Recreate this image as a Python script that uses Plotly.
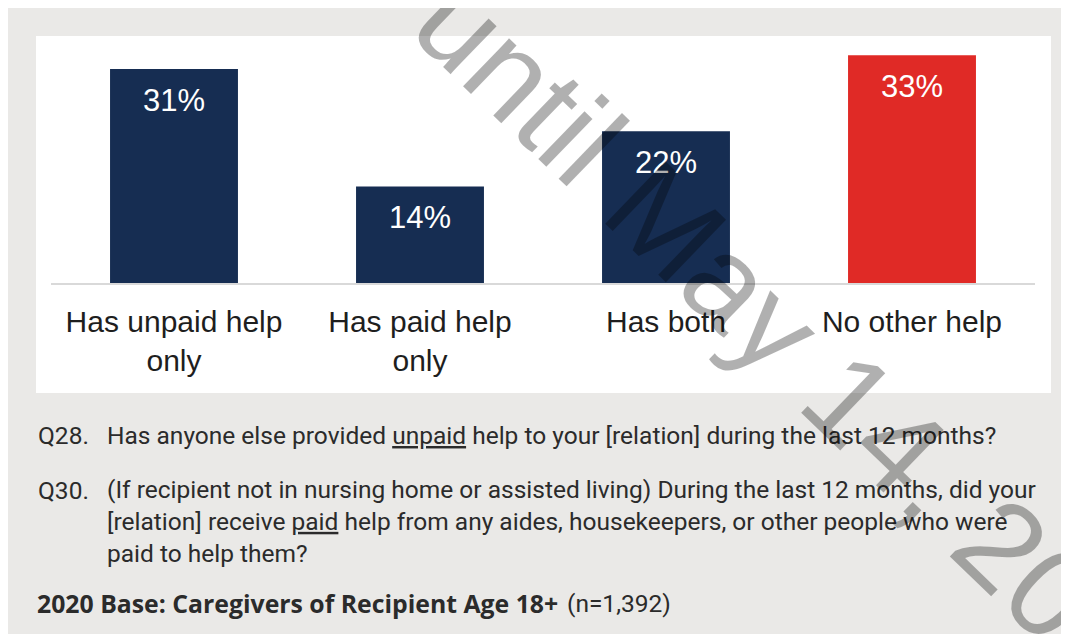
import plotly.graph_objects as go

# ---- data ----
categories = ["Has unpaid help<br>only", "Has paid help<br>only", "Has both", "No other help"]
values = [31, 14, 22, 33]
value_labels = ["31%", "14%", "22%", "33%"]
bar_colors = ["#162d52", "#162d52", "#162d52", "#e02a26"]

q28_label = "Q28."
q28_text = "Has anyone else provided <u>unpaid</u> help to your [relation] during the last 12 months?"
q30_label = "Q30."
q30_text = ("(If recipient not in nursing home or assisted living) During the last 12 months, did your<br>"
            "[relation] receive <u>paid</u> help from any aides, housekeepers, or other people who were<br>"
            "paid to help them?")
base_bold = "<b>2020 Base: Caregivers of Recipient Age 18+</b>"
base_n = "(n=1,392)"
watermark = "until May 14, 20"

W, H = 1077, 634
OFF = 8  # page body margin
# plot area in page pixels
PL, PR, PT, PB = 51, 1035, 48, 283
L, R, T, B = PL - OFF, PR - OFF, PT - OFF, PB - OFF


def px(xp):  # page px -> paper
    return (xp - PL) / (PR - PL)


def py(yp):
    return (PB - yp) / (PB - PT)


fig = go.Figure()
fig.add_trace(go.Bar(
    x=categories, y=values, marker=dict(color=bar_colors, line=dict(width=0)),
    hoverinfo="skip", showlegend=False,
))

annotations = []
for c, v, t in zip(categories, values, value_labels):
    annotations.append(dict(
        x=c, y=v, xref="x", yref="y", text=t, showarrow=False,
        yanchor="middle", xanchor="center", yshift=-31,
        font=dict(family="Liberation Sans, Arial", size=31, color="white"),
    ))

txt_font = dict(family="Roboto, Noto Sans", size=24.5, color="#2b2b2b")
annotations += [
    dict(x=px(36), y=py(435), xref="paper", yref="paper", text=q28_label, showarrow=False,
         xanchor="left", yanchor="middle", font=txt_font),
    dict(x=px(105), y=py(435), xref="paper", yref="paper", text=q28_text, showarrow=False,
         xanchor="left", yanchor="middle", font=txt_font),
    dict(x=px(36), y=py(490), xref="paper", yref="paper", text=q30_label, showarrow=False,
         xanchor="left", yanchor="middle", font=txt_font),
    dict(x=px(105), y=py(521.5), xref="paper", yref="paper", text=q30_text, showarrow=False,
         xanchor="left", yanchor="middle", align="left", font=txt_font),
    dict(x=px(35), y=py(603), xref="paper", yref="paper", text=base_bold, showarrow=False,
         xanchor="left", yanchor="middle",
         font=dict(family="Open Sans, Noto Sans", size=24.8, color="#2b2b2b")),
    dict(x=px(565), y=py(603), xref="paper", yref="paper", text=base_n, showarrow=False,
         xanchor="left", yanchor="middle", font=txt_font),
    dict(x=px(757), y=py(309), xref="paper", yref="paper", text=watermark, showarrow=False,
         xanchor="center", yanchor="middle", textangle=44,
         font=dict(family="Liberation Sans, Arial", size=126, color="rgba(0,0,0,0.31)")),
]

shapes = [
    dict(type="rect", xref="paper", yref="paper", layer="below",
         x0=px(36), x1=px(1051), y0=py(393), y1=py(36),
         fillcolor="white", line=dict(width=0)),
]

fig.update_layout(
    width=W, height=H,
    margin=dict(l=L, r=W - R, t=T, b=H - B, pad=0),
    paper_bgcolor="#eae9e7", plot_bgcolor="rgba(0,0,0,0)",
    bargap=0.48,
    xaxis=dict(showgrid=False, zeroline=False, showline=True, linecolor="#d9d9d9", linewidth=2,
               ticks="", ticklabelstandoff=11,
               tickfont=dict(family="Liberation Sans, Arial", size=30, color="#1e1e1e")),
    yaxis=dict(range=[0, (PB - PT) / 6.9], showgrid=False, zeroline=False, showline=False,
               showticklabels=False, ticks=""),
    annotations=annotations, shapes=shapes,
)

fig.write_html("out.html", post_script="document.body.style.overflow='hidden';")
